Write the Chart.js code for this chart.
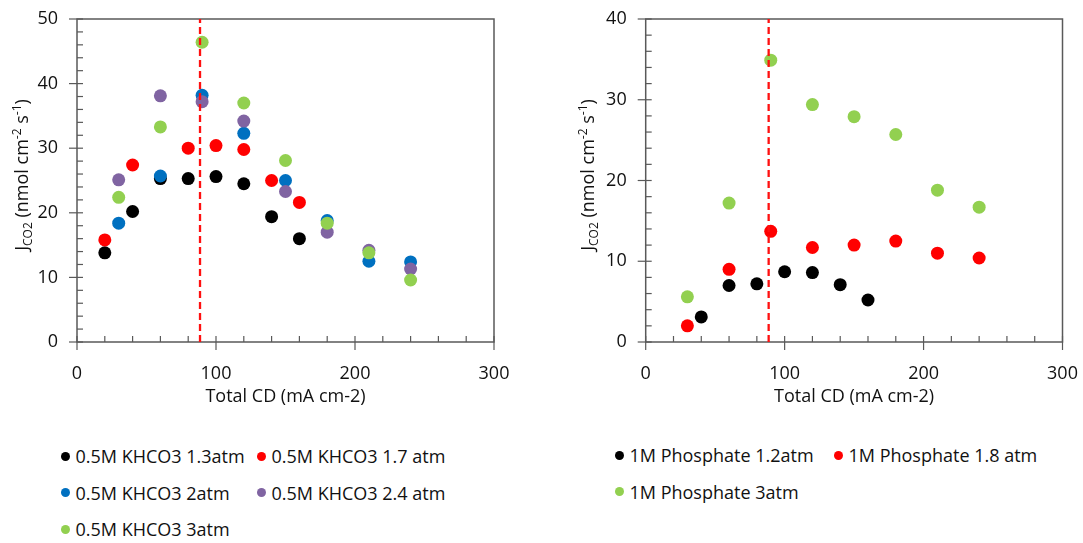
<html>
<head>
  <title>JCO2 vs Total CD</title>
  <script src="https://cdn.jsdelivr.net/npm/chart.js"></script>
  <style>
    body { margin: 0; background: #fff; font-family: 'Open Sans', sans-serif; }
    #wrap { position: relative; width: 1083px; height: 543px; }
    canvas { position: absolute; top: 0; }
    .legend { position: absolute; display: grid; grid-auto-rows: 36.5px; font-size: 18px; color: #111; }
    .item { display: flex; align-items: center; white-space: nowrap; }
    .dot { width: 9px; height: 9px; border-radius: 50%; margin-right: 6px; flex: none; }
  </style>
</head>
<body>
<div id="wrap">
  <canvas id="leftChart" width="540" height="420" style="left:0"></canvas>
  <canvas id="rightChart" width="543" height="420" style="left:540px"></canvas>
  <div id="leftLegend" class="legend" style="left:60.5px; top:437.75px; grid-template-columns:196px auto"></div>
  <div id="rightLegend" class="legend" style="left:614.5px; top:436.75px; grid-template-columns:219px auto"></div>
</div>

<script>
// 0.5M KHCO3 panel
const k13x = [20, 40, 60, 80, 100, 120, 140, 160];
const k13y = [13.8, 20.2, 25.3, 25.3, 25.6, 24.5, 19.4, 16.0];
const k17x = [20, 40, 80, 100, 120, 140, 160];
const k17y = [15.8, 27.4, 30.0, 30.4, 29.8, 25.0, 21.6];
const k2x = [30, 60, 90, 120, 150, 180, 210, 240];
const k2y = [18.4, 25.7, 38.2, 32.3, 25.0, 18.8, 12.5, 12.4];
const k24x = [30, 60, 90, 120, 150, 180, 210, 240];
const k24y = [25.1, 38.1, 37.2, 34.2, 23.3, 17.0, 14.2, 11.3];
const k3x = [30, 60, 90, 120, 150, 180, 210, 240];
const k3y = [22.4, 33.3, 46.4, 37.0, 28.1, 18.4, 13.8, 9.6];

// 1M Phosphate panel
const p12x = [40, 60, 80, 100, 120, 140, 160];
const p12y = [3.1, 7.0, 7.2, 8.7, 8.6, 7.1, 5.2];
const p18x = [30, 60, 90, 120, 150, 180, 210, 240];
const p18y = [2.0, 9.0, 13.7, 11.7, 12.0, 12.5, 11.0, 10.4];
const p3x = [30, 60, 90, 120, 150, 180, 210, 240];
const p3y = [5.6, 17.2, 34.9, 29.4, 27.9, 25.7, 18.8, 16.7];

const leftLabels = ['0.5M KHCO3 1.3atm', '0.5M KHCO3 1.7 atm', '0.5M KHCO3 2atm', '0.5M KHCO3 2.4 atm', '0.5M KHCO3 3atm'];
const rightLabels = ['1M Phosphate 1.2atm', '1M Phosphate 1.8 atm', '1M Phosphate 3atm'];

const xTicks = [0, 100, 200, 300];
const leftYMax = 50;
const rightYMax = 40;
const cdMark = 88.5;   // red dashed line

const FONT = "'Open Sans', sans-serif";
const TEXT = '#111';
const AXIS = '#595959';

function pts(xs, ys) {
  return xs.map((x, i) => ({ x: x, y: ys[i] }));
}

// frame + excel-like tick marks (majors cross the axis, minors inside)
const frameTicks = {
  id: 'frameTicks',
  beforeDatasetsDraw(chart) {
    const { ctx, chartArea: a, scales: { x, y } } = chart;
    ctx.save();
    ctx.strokeStyle = AXIS;
    ctx.lineWidth = 1.5;
    ctx.strokeRect(a.left, a.top, a.right - a.left, a.bottom - a.top);
    ctx.lineWidth = 1.2;
    for (let v = 0; v <= y.max; v += 2) {
      const py = y.getPixelForValue(v);
      ctx.beginPath();
      ctx.moveTo(v % 10 === 0 ? a.left - 8 : a.left, py);
      ctx.lineTo(a.left + 6, py);
      ctx.stroke();
    }
    for (let v = 0; v <= x.max; v += 20) {
      const px = x.getPixelForValue(v);
      ctx.beginPath();
      ctx.moveTo(px, v % 100 === 0 ? a.bottom + 8 : a.bottom);
      ctx.lineTo(px, a.bottom - 6);
      ctx.stroke();
    }
    ctx.restore();
  }
};

// y title with subscript / superscripts
const yTitle = {
  id: 'yTitle',
  afterDraw(chart, args, opts) {
    const ctx = chart.ctx;
    const parts = [
      { t: 'J', s: 18, dy: 0 },
      { t: 'CO2', s: 12, dy: 4 },
      { t: ' (nmol cm', s: 18, dy: 0 },
      { t: '-2', s: 12, dy: -7 },
      { t: ' s', s: 18, dy: 0 },
      { t: '-1', s: 12, dy: -7 },
      { t: ')', s: 18, dy: 0 }
    ];
    ctx.save();
    ctx.fillStyle = TEXT;
    ctx.textBaseline = 'alphabetic';
    let total = 0;
    parts.forEach(p => {
      ctx.font = p.s + 'px ' + FONT;
      p.w = ctx.measureText(p.t).width;
      total += p.w;
    });
    ctx.translate(opts.x, opts.y);
    ctx.rotate(-Math.PI / 2);
    let cx = -total / 2;
    parts.forEach(p => {
      ctx.font = p.s + 'px ' + FONT;
      ctx.fillText(p.t, cx, 6 + p.dy);
      cx += p.w;
    });
    ctx.restore();
  }
};

function makeChart(id, series, labels, yMax, axisWidth, padRight, titleX) {
  const colors = ['#000000', '#ff0000', '#0070c0', '#8064a2', '#92d050'];
  if (series.length === 3) colors.splice(2, 2);
  const datasets = series.map((s, i) => ({
    label: labels[i],
    data: s,
    backgroundColor: colors[i],
    borderWidth: 0,
    pointRadius: 6.5,
    pointHoverRadius: 6.5,
    order: series.length - i + 1
  }));
  datasets.push({
    type: 'line',
    label: 'cd',
    data: [{ x: cdMark, y: 0 }, { x: cdMark, y: yMax }],
    borderColor: '#ff1010',
    borderWidth: 2.3,
    borderDash: [7, 4],
    pointRadius: 0,
    showLine: true,
    fill: false,
    order: 0
  });
  return new Chart(document.getElementById(id), {
    type: 'scatter',
    data: { datasets: datasets },
    options: {
      responsive: false,
      animation: false,
      devicePixelRatio: 1,
      layout: { padding: { top: 19, right: padRight, bottom: 0, left: 0 } },
      plugins: {
        legend: { display: false },
        tooltip: { enabled: false },
        yTitle: { x: titleX, y: 175 }
      },
      scales: {
        x: {
          type: 'linear',
          min: 0,
          max: 300,
          afterBuildTicks: s => { s.ticks = xTicks.map(v => ({ value: v })); },
          afterFit: s => { s.height = 78; s.paddingLeft = 0; s.paddingRight = 0; },
          grid: { display: false, drawTicks: false },
          border: { display: false },
          ticks: { color: TEXT, font: { family: FONT, size: 18 }, padding: 21 },
          title: {
            display: true,
            text: 'Total CD (mA cm-2)',
            color: TEXT,
            font: { family: FONT, size: 18 },
            padding: { top: 0, bottom: 12 }
          }
        },
        y: {
          min: 0,
          max: yMax,
          afterFit: s => { s.width = axisWidth; s.paddingTop = 0; s.paddingBottom = 0; },
          grid: { display: false, drawTicks: false },
          border: { display: false },
          ticks: { stepSize: 10, color: TEXT, font: { family: FONT, size: 18 }, padding: 19 }
        }
      }
    },
    plugins: [frameTicks, yTitle]
  });
}

function buildLegend(chart, elId) {
  const el = document.getElementById(elId);
  chart.data.datasets.filter(d => d.label !== 'cd').forEach(d => {
    const item = document.createElement('div');
    item.className = 'item';
    const dot = document.createElement('span');
    dot.className = 'dot';
    dot.style.background = d.backgroundColor;
    const txt = document.createElement('span');
    txt.textContent = d.label;
    item.appendChild(dot);
    item.appendChild(txt);
    el.appendChild(item);
  });
}

const leftChart = makeChart('leftChart',
  [pts(k13x, k13y), pts(k17x, k17y), pts(k2x, k2y), pts(k24x, k24y), pts(k3x, k3y)],
  leftLabels, leftYMax, 77, 46, 21.7);
const rightChart = makeChart('rightChart',
  [pts(p12x, p12y), pts(p18x, p18y), pts(p3x, p3y)],
  rightLabels, rightYMax, 105.7, 20.5, 48.3);

buildLegend(leftChart, 'leftLegend');
buildLegend(rightChart, 'rightLegend');
</script>
</body>
</html>
